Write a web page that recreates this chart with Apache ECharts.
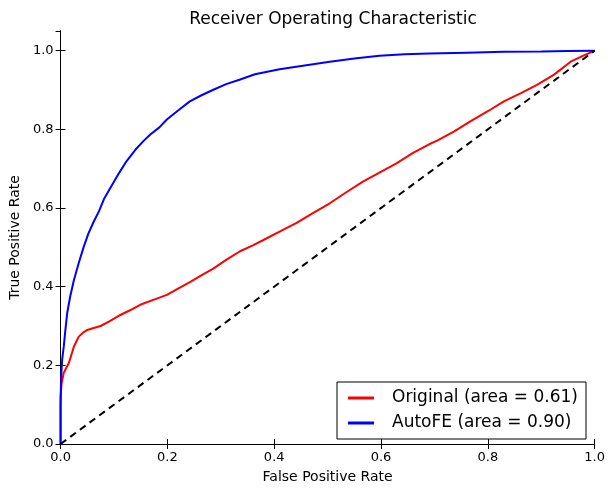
<!DOCTYPE html>
<html>
<head>
<meta charset="utf-8">
<script src="https://cdn.jsdelivr.net/npm/echarts@6/dist/echarts.min.js"></script>
<style>
  html, body { margin: 0; padding: 0; background: #fff; }
  #chart { width: 608px; height: 489px; }
</style>
</head>
<body>
<div id="chart"></div>
<script>
// ROC curves: [false positive rate, true positive rate]
const originalRoc = [
  [0,0],[0,0.12],[0.002,0.155],[0.006,0.181],[0.0155,0.206],[0.025,0.248],[0.034,0.273],
  [0.042,0.283],[0.05,0.290],[0.062,0.295],[0.075,0.30],[0.093,0.313],[0.112,0.328],
  [0.13,0.34],[0.149,0.354],[0.175,0.367],[0.199,0.379],[0.22,0.395],[0.243,0.412],
  [0.265,0.43],[0.286,0.446],[0.31,0.468],[0.336,0.49],[0.36,0.505],[0.379,0.518],
  [0.41,0.54],[0.442,0.562],[0.47,0.585],[0.504,0.612],[0.535,0.64],[0.566,0.667],
  [0.597,0.69],[0.628,0.713],[0.66,0.74],[0.69,0.762],[0.706,0.772],[0.737,0.795],
  [0.768,0.821],[0.8,0.846],[0.83,0.871],[0.862,0.892],[0.892,0.913],[0.924,0.939],
  [0.955,0.972],[0.98,0.988],[1,1]
];
const autofeRoc = [
  [0,0],[0,0.10],[0.001,0.17],[0.003,0.215],[0.006,0.248],[0.009,0.29],[0.0124,0.333],
  [0.018,0.375],[0.025,0.417],[0.034,0.46],[0.043,0.50],[0.052,0.535],[0.062,0.565],
  [0.072,0.592],[0.081,0.622],[0.095,0.655],[0.11,0.69],[0.124,0.72],[0.14,0.748],
  [0.155,0.77],[0.168,0.787],[0.185,0.805],[0.199,0.825],[0.22,0.848],[0.242,0.871],
  [0.263,0.886],[0.285,0.90],[0.31,0.915],[0.335,0.926],[0.364,0.940],[0.41,0.953],
  [0.46,0.963],[0.504,0.972],[0.55,0.98],[0.597,0.987],[0.644,0.991],[0.69,0.993],
  [0.76,0.995],[0.83,0.997],[0.9,0.998],[0.95,0.999],[1,1]
];
const chanceLine = [[0,0],[1,1]];
const seriesNames = ['Original (area = 0.61)', 'AutoFE (area = 0.90)'];

const FONT = 'DejaVu Sans';
const frameAxis = {
  type: 'value', min: 0, interval: 0.2,
  axisLine: { show: true, lineStyle: { color: '#000', width: 1 } },
  axisTick: { show: true, inside: true, length: 5, lineStyle: { color: '#000' } },
  splitLine: { show: false }
};

const chart = echarts.init(document.getElementById('chart'), null, { renderer: 'canvas' });
chart.setOption({
  backgroundColor: '#fff',
  animation: false,
  title: {
    text: 'Receiver Operating Characteristic',
    left: 328, top: 6, textAlign: 'center',
    textStyle: { fontFamily: FONT, fontSize: 17, fontWeight: 'normal', color: '#000' }
  },
  grid: { left: 60, right: 12, top: 31, bottom: 44 },
  legend: {
    data: seriesNames,
    orient: 'vertical',
    left: 337, top: 382,
    padding: [6, 8, 6, 11],
    itemGap: 5,
    itemWidth: 26, itemHeight: 3,
    icon: 'rect',
    borderColor: '#000', borderWidth: 1,
    backgroundColor: '#fff',
    textStyle: { fontFamily: FONT, fontSize: 17, color: '#000', lineHeight: 20, padding: [0, 0, 0, 13] }
  },
  xAxis: [
    Object.assign({}, frameAxis, {
      max: 1, position: 'bottom',
      name: 'False Positive Rate', nameLocation: 'middle', nameGap: 26,
      nameTextStyle: { fontFamily: FONT, fontSize: 14, color: '#000' },
      axisLabel: { fontFamily: FONT, fontSize: 13, color: '#000', margin: 7,
        formatter: v => v.toFixed(1) }
    }),
    Object.assign({}, frameAxis, { max: 1, position: 'top', axisLabel: { show: false } })
  ],
  yAxis: [
    Object.assign({}, frameAxis, {
      max: 1.05, position: 'left',
      name: 'True Positive Rate', nameLocation: 'middle', nameGap: 35,
      nameTextStyle: { fontFamily: FONT, fontSize: 14, color: '#000' },
      axisLabel: { fontFamily: FONT, fontSize: 13, color: '#000', margin: 7,
        showMaxLabel: false, formatter: v => v.toFixed(1) }
    }),
    Object.assign({}, frameAxis, { max: 1.05, position: 'right', axisLabel: { show: false } })
  ],
  series: [
    {
      name: seriesNames[0], type: 'line', data: originalRoc,
      showSymbol: false, symbol: 'none', color: '#ff0000',
      lineStyle: { color: '#ff0000', width: 2 }, z: 2
    },
    {
      name: seriesNames[1], type: 'line', data: autofeRoc,
      showSymbol: false, symbol: 'none', color: '#0000ff',
      lineStyle: { color: '#0000ff', width: 2 }, z: 3
    },
    {
      name: 'chance', type: 'line', data: chanceLine,
      showSymbol: false, symbol: 'none', color: '#000',
      lineStyle: { color: '#000', width: 2, type: [7, 5] }, z: 4
    }
  ]
});
</script>
</body>
</html>
